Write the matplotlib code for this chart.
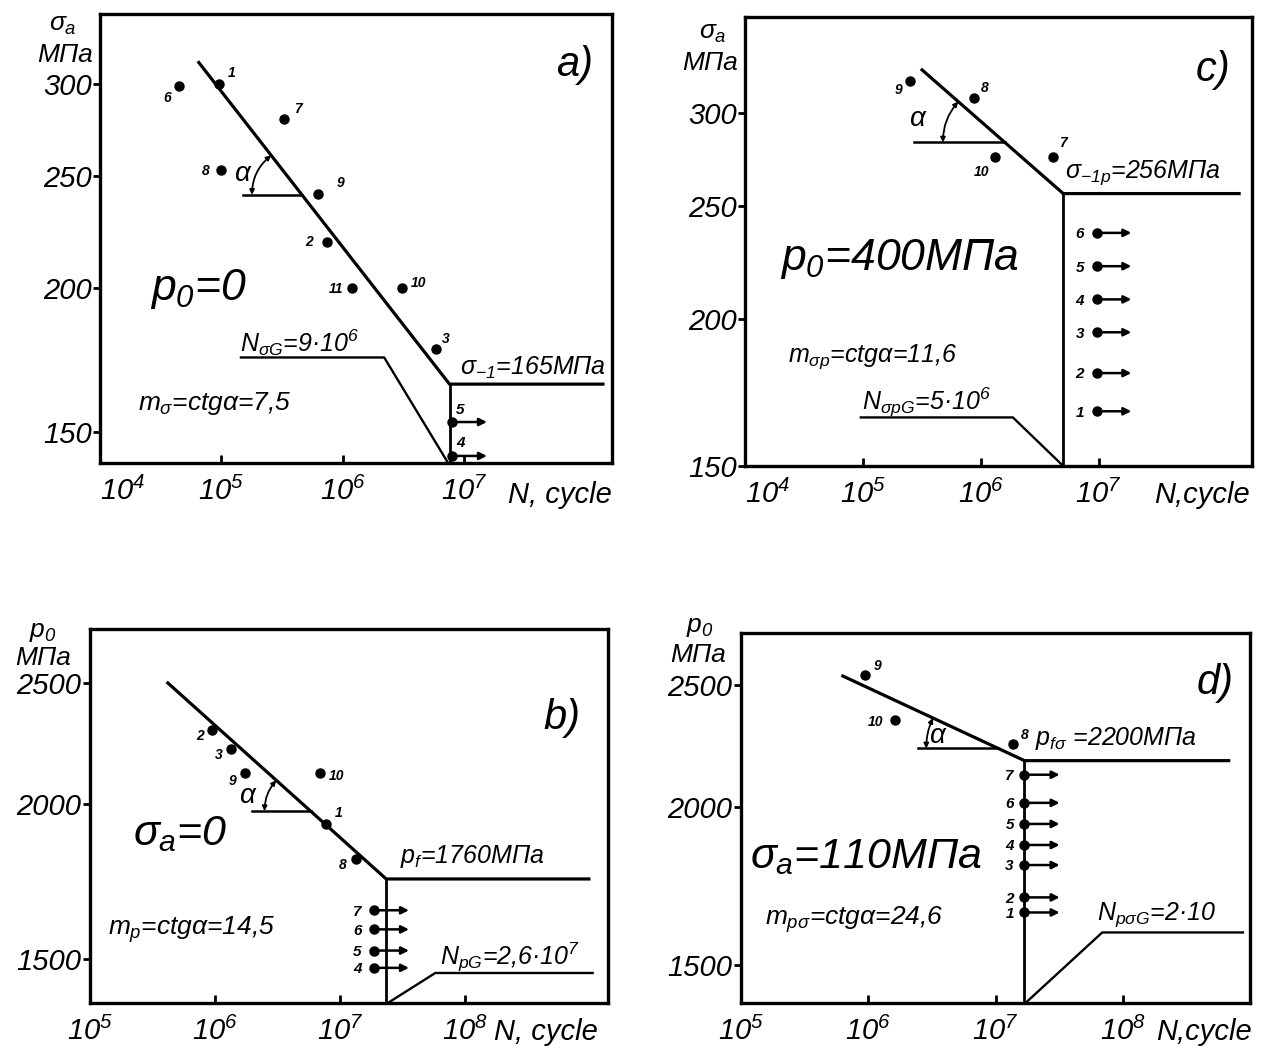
import matplotlib.pyplot as plt
import numpy as np

plt.rcParams['font.family'] = ['Liberation Sans', 'DejaVu Sans']
plt.rcParams['font.style'] = 'italic'
plt.rcParams['mathtext.fontset'] = 'custom'
plt.rcParams['mathtext.rm'] = 'Liberation Sans:italic'
plt.rcParams['mathtext.it'] = 'Liberation Sans:italic'
plt.rcParams['mathtext.sf'] = 'Liberation Sans:italic'
plt.rcParams['mathtext.bf'] = 'Liberation Sans:italic:bold'

W, H = 1264, 1053

# ---------------- a)  p0 = 0 ----------------
a_pts_n = [4.5e4, 9.6e4, 3.3e5, 1.0e5, 6.3e5, 7.4e5, 1.2e6, 3.1e6, 5.9e6]
a_pts_s = [299, 300, 280, 253, 241, 219, 200, 200, 177]
a_pts_id = ['6', '1', '7', '8', '9', '2', '11', '10', '3']
a_run_n = [8.0e6, 8.0e6]
a_run_s = [153, 143]
a_run_id = ['5', '4']
a_curve_n = [6.4e4, 7.6e6, 1.44e8]
a_curve_s = [314, 165, 165]
a_vert_s = [165, 141]
a_ng_n = [1.45e5, 2.2e6, 7.4e6]
a_ng_s = [174, 174, 141]
a_alpha_n = 1.5e5
a_alpha_s = 240.6

# ---------------- c)  p0 = 400 MPa ----------------
c_pts_n = [2.5e5, 8.7e5, 1.32e6, 4.1e6]
c_pts_s = [319, 309, 275, 275]
c_pts_id = ['9', '8', '10', '7']
c_run_n = [9.6e6] * 6
c_run_s = [237, 222, 208, 195, 180, 167]
c_run_id = ['6', '5', '4', '3', '2', '1']
c_curve_n = [3.1e5, 5.0e6, 1.6e8]
c_curve_s = [327, 256, 256]
c_vert_s = [256, 150]
c_ng_n = [9.6e4, 1.87e6, 5.0e6]
c_ng_s = [165, 165, 150]
c_alpha_n = 2.7e5
c_alpha_s = 283

# ---------------- b)  sigma_a = 0 ----------------
b_pts_n = [9.5e5, 1.34e6, 1.74e6, 6.9e6, 7.7e6, 1.34e7]
b_pts_s = [2291, 2212, 2118, 2117, 1926, 1804]
b_pts_id = ['2', '3', '9', '10', '1', '8']
b_run_n = [1.87e7] * 4
b_run_s = [1642, 1585, 1524, 1476]
b_run_id = ['7', '6', '5', '4']
b_curve_n = [4.1e5, 2.33e7, 1.0e9]
b_curve_s = [2506, 1740, 1740]
b_vert_s = [1740, 1383]
b_ng_n = [2.4e7, 5.75e7, 1.04e9]
b_ng_s = [1383, 1462, 1462]
b_alpha_n = 1.98e6
b_alpha_s = 1973

# ---------------- d)  sigma_a = 110 MPa ----------------
d_pts_n = [9.5e5, 1.62e6, 1.38e7]
d_pts_s = [2543, 2343, 2245]
d_pts_id = ['9', '10', '8']
d_run_n = [1.66e7] * 7
d_run_s = [2122, 2016, 1940, 1867, 1800, 1697, 1651]
d_run_id = ['7', '6', '5', '4', '3', '2', '1']
d_curve_n = [6.15e5, 1.69e7, 7.0e8]
d_curve_s = [2543, 2177, 2177]
d_vert_s = [2177, 1400]
d_ng_n = [1.72e7, 6.9e7, 8.8e8]
d_ng_s = [1400, 1592, 1592]
d_alpha_n = 2.46e6
d_alpha_s = 2226


def fxy(px, py):
    return px / W, 1 - py / H


def make_axes(box, xlim, ylim, xdec, yticks, first_left=False):
    l, t, r, b = box
    ax = fig.add_axes([l / W, 1 - b / H, (r - l) / W, (b - t) / H])
    ax.set_xscale('log')
    ax.set_yscale('log')
    ax.set_xlim(*xlim)
    ax.set_ylim(*ylim)
    ax.minorticks_off()
    ax.set_xticks([10.0 ** k for k in xdec])
    ax.set_xticklabels([r'$10^{%d}$' % k for k in xdec], fontsize=21)
    if first_left:
        ax.get_xticklabels()[0].set_ha('left')
    ax.set_yticks(yticks)
    ax.set_yticklabels([str(v) for v in yticks], fontsize=21)
    ax.tick_params(axis='x', direction='in', length=6, width=2, pad=10)
    ax.tick_params(axis='y', direction='out', length=5, width=2, pad=1)
    for sp in ax.spines.values():
        sp.set_linewidth(2.4)
    return ax


def draw(ax, curve_n, curve_s, vert_s, ng_n, ng_s, pts_n, pts_s, pts_id, pts_off,
         run_n, run_s, run_id, run_off, alpha_n, alpha_s, alpha_r, arrow_len):
    ax.plot(curve_n, curve_s, color='k', lw=2.3, solid_capstyle='butt')
    ax.plot([curve_n[1], curve_n[1]], vert_s, color='k', lw=2.0)
    ax.plot(ng_n, ng_s, color='k', lw=1.7)
    ax.plot(pts_n, pts_s, 'o', color='k', ms=6.5)
    ax.plot(run_n, run_s, 'o', color='k', ms=6.5)
    for n, s, t, o in zip(pts_n, pts_s, pts_id, pts_off):
        ax.annotate(t, (n, s), xytext=o, textcoords='offset points', fontsize=10,
                    fontweight='bold', ha='center', va='center')
    for n, s, t in zip(run_n, run_s, run_id):
        ax.annotate('', (n, s), xytext=(arrow_len, 0), textcoords='offset points',
                    arrowprops=dict(arrowstyle='<|-', color='k', lw=1.8,
                                    mutation_scale=11, shrinkA=0, shrinkB=0))
        ax.annotate(t, (n, s), xytext=run_off, textcoords='offset points', fontsize=11,
                    fontweight='bold', ha='center', va='center')
    # angle alpha: horizontal meeting the sloped line
    ln = np.log10(curve_n[:2])
    ls = np.log10(curve_s[:2])
    tt = (np.log10(alpha_s) - ls[0]) / (ls[1] - ls[0])
    nv = 10 ** (ln[0] + tt * (ln[1] - ln[0]))
    ax.plot([alpha_n, nv], [alpha_s, alpha_s], color='k', lw=1.8)
    V = ax.transData.transform((nv, alpha_s))
    P0 = ax.transData.transform((curve_n[0], curve_s[0]))
    d = (P0 - V) / np.hypot(*(P0 - V))
    A = V + alpha_r * np.array([-1.0, 0.0])
    B = V + alpha_r * d
    phi = np.arccos(np.clip(-d[0], -1, 1))
    mid = (A + B) / 2
    dx, dy = B - A
    sgn = np.sign(dy * (mid - V)[0] - dx * (mid - V)[1])
    inv = ax.transData.inverted()
    ax.annotate('', xy=inv.transform(B), xytext=inv.transform(A),
                arrowprops=dict(arrowstyle='<|-|>', color='k', lw=1.3, mutation_scale=7,
                                shrinkA=0, shrinkB=0,
                                connectionstyle='arc3,rad=%.3f' % (sgn * np.tan(phi / 4))))
    return nv


def label(px, py, s, size, ha='left', va='baseline'):
    fig.text(*fxy(px, py), s, fontsize=size, ha=ha, va=va)


fig = plt.figure(figsize=(W / 100, H / 100), dpi=100)

# a)
ax_a = make_axes((100, 14, 612, 463), (1e4, 10 ** 8.22), (141, 345), [4, 5, 6, 7],
                 [150, 200, 250, 300], first_left=True)
draw(ax_a, a_curve_n, a_curve_s, a_vert_s, a_ng_n, a_ng_s, a_pts_n, a_pts_s, a_pts_id,
     [(-9, -9), (9, 8), (10, 7), (-11, -1), (16, 8), (-13, 0), (-12, -1), (12, 3), (7, 7)],
     a_run_n, a_run_s, a_run_id, (6, 9), alpha_s=a_alpha_s, alpha_n=a_alpha_n,
     alpha_r=50, arrow_len=25)
label(63, 25, r'$\sigma_a$', 19, 'center', 'center')
label(65, 55, 'МПа', 19, 'center', 'center')
label(575, 65, 'a)', 30, 'center', 'center')
label(243, 181, r'$\alpha$', 20, 'center', 'baseline')
label(150, 300, r'$p_0$=0', 32)
label(240, 352, r'$N_{\sigma G}$=9·10$^{6}$', 18)
label(460, 375, r'$\sigma_{-1}$=165МПа', 18)
label(138, 410, r'$m_\sigma$=ctg$\alpha$=7,5', 19)
label(612, 503, 'N, cycle', 21, 'right')

# c)
ax_c = make_axes((745, 17, 1252, 466), (1e4, 10 ** 8.3), (150, 362), [4, 5, 6, 7],
                 [150, 200, 250, 300], first_left=True)
draw(ax_c, c_curve_n, c_curve_s, c_vert_s, c_ng_n, c_ng_s, c_pts_n, c_pts_s, c_pts_id,
     [(-8, -6), (8, 7), (-10, -11), (7, 10)],
     c_run_n, c_run_s, c_run_id, (-12, -1), alpha_s=c_alpha_s, alpha_n=c_alpha_n,
     alpha_r=62, arrow_len=25)
label(713, 33, r'$\sigma_a$', 19, 'center', 'center')
label(710, 63, 'МПа', 19, 'center', 'center')
label(1213, 70, 'c)', 30, 'center', 'center')
label(918, 126, r'$\alpha$', 20, 'center', 'baseline')
label(780, 270, r'$p_0$=400МПа', 32)
label(788, 362, r'$m_{\sigma p}$=ctg$\alpha$=11,6', 18)
label(862, 410, r'$N_{\sigma pG}$=5·10$^{6}$', 18)
label(1065, 178, r'$\sigma_{-1p}$=256МПа', 18)
label(1250, 503, 'N,cycle', 21, 'right')

# b)
ax_b = make_axes((90, 629, 608, 1003), (1e5, 10 ** 9.14), (1383, 2764), [5, 6, 7, 8],
                 [1500, 2000, 2500])
draw(ax_b, b_curve_n, b_curve_s, b_vert_s, b_ng_n, b_ng_s, b_pts_n, b_pts_s, b_pts_id,
     [(-9, -4), (-9, -4), (-9, -6), (12, -2), (9, 8), (-10, -4)],
     b_run_n, b_run_s, b_run_id, (-12, -1), alpha_s=b_alpha_s, alpha_n=b_alpha_n,
     alpha_r=46, arrow_len=25)
label(43, 632, r'$p_0$', 19, 'center', 'center')
label(43, 658, 'МПа', 19, 'center', 'center')
label(562, 718, 'b)', 30, 'center', 'center')
label(248, 803, r'$\alpha$', 20, 'center', 'baseline')
label(133, 845, r'$\sigma_a$=0', 31)
label(108, 935, r'$m_p$=ctg$\alpha$=14,5', 19)
label(400, 863, r'$p_f$=1760МПа', 18)
label(440, 965, r'$N_{pG}$=2,6·10$^{7}$', 18)
label(598, 1040, 'N, cycle', 21, 'right')

# d)
ax_d = make_axes((741, 633, 1250, 1003), (10 ** 5.02, 10 ** 9.0), (1400, 2747), [5, 6, 7, 8],
                 [1500, 2000, 2500])
draw(ax_d, d_curve_n, d_curve_s, d_vert_s, d_ng_n, d_ng_s, d_pts_n, d_pts_s, d_pts_id,
     [(9, 7), (-14, -1), (8, 6)],
     d_run_n, d_run_s, d_run_id, (-10, -1), alpha_s=d_alpha_s, alpha_n=d_alpha_n,
     alpha_r=72, arrow_len=26)
label(700, 627, r'$p_0$', 19, 'center', 'center')
label(698, 655, 'МПа', 19, 'center', 'center')
label(1215, 683, 'd)', 30, 'center', 'center')
label(938, 743, r'$\alpha$', 20, 'center', 'baseline')
label(750, 868, r'$\sigma_a$=110МПа', 31)
label(765, 925, r'$m_{p\sigma}$=ctg$\alpha$=24,6', 19)
label(1035, 745, r'$p_{f\sigma}$ =2200МПа', 18)
label(1097, 920, r'$N_{p\sigma G}$=2·10', 18)
label(1252, 1040, 'N,cycle', 21, 'right')

fig.savefig('out.png', dpi=100)
